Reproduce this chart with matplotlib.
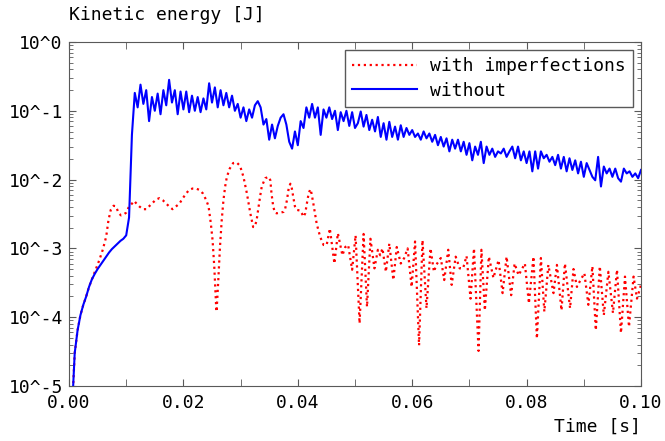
import numpy as np
import matplotlib
matplotlib.use("Agg")
import matplotlib.pyplot as plt
from matplotlib.ticker import MultipleLocator, LogLocator, NullFormatter, FuncFormatter, FormatStrFormatter

plt.rcParams['font.family'] = 'DejaVu Sans Mono'

# run without imperfections, sampled every 0.5 ms
t_without_ms = np.arange(0, 100.01, 0.5)
# log10 of kinetic energy [J]
without_exp = [
    -7.0, -5.4, -4.52, -4.19, -3.97, -3.82, -3.70, -3.56, -3.45, -3.37,
    -3.30, -3.24, -3.18, -3.12, -3.06, -3.01, -2.97, -2.93, -2.89, -2.86,
    -2.81, -2.55, -1.35, -0.74, -0.95, -0.62, -0.90, -0.70, -1.15, -0.80,
    -1.00, -0.75, -1.05, -0.70, -0.92, -0.55, -0.88, -0.70, -1.05, -0.72,
    -0.98, -0.72, -1.02, -0.78, -1.00, -0.80, -1.02, -0.82, -0.98, -0.60,
    -0.88, -0.66, -0.95, -0.70, -0.92, -0.74, -0.95, -0.78, -1.00, -0.90,
    -1.10, -0.95, -1.15, -0.98, -1.10, -0.92, -0.86, -0.95, -1.20, -1.12,
    -1.42, -1.20, -1.40, -1.22, -1.10, -1.05, -1.20, -1.45, -1.55, -1.30,
    -1.50, -1.15, -1.25, -0.95, -1.10, -0.90, -1.10, -0.95, -1.35, -0.98,
    -1.10, -0.95, -1.12, -1.00, -1.28, -1.02, -1.15, -1.00, -1.22, -1.02,
    -1.25, -1.18, -1.01, -1.23, -1.06, -1.28, -1.13, -1.30, -1.09, -1.38,
    -1.18, -1.42, -1.16, -1.38, -1.23, -1.42, -1.21, -1.38, -1.25, -1.35,
    -1.28, -1.38, -1.33, -1.42, -1.30, -1.40, -1.33, -1.45, -1.35, -1.50,
    -1.38, -1.52, -1.40, -1.59, -1.42, -1.55, -1.42, -1.59, -1.45, -1.64,
    -1.47, -1.72, -1.52, -1.64, -1.45, -1.76, -1.52, -1.64, -1.55, -1.67,
    -1.59, -1.62, -1.55, -1.67, -1.59, -1.52, -1.69, -1.52, -1.72, -1.59,
    -1.76, -1.59, -1.88, -1.59, -1.84, -1.59, -1.69, -1.64, -1.74, -1.67,
    -1.79, -1.64, -1.84, -1.67, -1.88, -1.69, -1.86, -1.72, -1.91, -1.74,
    -1.96, -1.76, -1.86, -1.96, -2.01, -1.67, -2.10, -1.81, -1.91, -1.84,
    -1.96, -1.84, -1.98, -2.03, -1.84, -1.91, -1.88, -1.96, -1.91, -1.98,
    -1.86,
]

# run with imperfections [ms]
t_with_ms = [
    0, 0.5, 1.0, 1.5, 2.0, 2.5, 3.0, 3.5, 4.0, 4.4,
    4.7, 5.3, 5.9, 6.5, 6.9, 7.3, 7.8, 8.2, 8.7, 9.1,
    9.5, 10.0, 10.5, 11.0, 11.4, 11.8, 12.3, 12.9, 13.5, 14.0,
    14.6, 15.2, 15.8, 16.4, 17.0, 17.5, 18.1, 18.7, 19.3, 19.9,
    20.5, 21.0, 21.6, 22.2, 22.8, 23.4, 24.0, 24.4, 24.8, 25.1,
    25.4, 25.7, 25.8, 26.1, 26.4, 26.7, 27.0, 27.3, 27.6, 28.1,
    28.7, 29.3, 29.9, 30.5, 31.1, 31.7, 32.2, 32.5, 32.8, 33.4,
    33.7, 34.3, 34.9, 35.2, 35.4, 35.7, 36.0, 36.3, 36.9, 37.5,
    37.8, 38.1, 38.4, 38.7, 38.9, 39.2, 39.5, 39.8, 40.4, 40.7,
    41.0, 41.3, 41.6, 41.9, 42.2, 42.4, 42.7, 43.0, 43.3, 43.9,
    44.5, 45.05, 45.6, 46.4, 47.0, 47.8, 48.3, 48.8, 49.5, 50.1,
    50.8, 51.5, 52.1, 52.7, 53.4, 54.0, 54.4, 54.8, 55.4, 56.0,
    56.7, 57.3, 58.0, 58.6, 59.2, 59.9, 60.5, 61.2, 61.8, 62.5,
    63.2, 63.8, 64.2, 65.0, 65.6, 66.3, 66.9, 67.6, 68.3, 68.9,
    69.5, 70.2, 70.8, 71.6, 72.1, 72.7, 73.4, 74.2, 75.1, 75.8,
    76.5, 77.3, 77.9, 78.6, 79.7, 80.4, 81.2, 81.8, 82.5, 83.1,
    83.8, 84.7, 85.3, 86.1, 86.7, 87.6, 88.2, 88.8, 89.3, 90.1,
    90.8, 91.5, 92.1, 92.8, 93.5, 94.3, 95.1, 95.8, 96.5, 97.2,
    97.9, 98.7, 99.3, 100.0,
]
with_exp = [
    -7.0, -5.4, -4.52, -4.19, -3.97, -3.82, -3.70, -3.56, -3.45, -3.36,
    -3.30, -3.17, -3.02, -2.83, -2.59, -2.44, -2.38, -2.39, -2.49, -2.52,
    -2.51, -2.48, -2.39, -2.35, -2.31, -2.35, -2.39, -2.43, -2.43, -2.39,
    -2.34, -2.29, -2.27, -2.30, -2.35, -2.39, -2.43, -2.39, -2.35, -2.27,
    -2.20, -2.15, -2.13, -2.13, -2.15, -2.20, -2.30, -2.39, -2.64, -2.88,
    -3.27, -3.80, -3.92, -3.46, -2.97, -2.59, -2.30, -2.10, -1.96, -1.84,
    -1.76, -1.75, -1.80, -1.96, -2.20, -2.49, -2.69, -2.68, -2.59, -2.25,
    -2.10, -1.98, -1.96, -2.01, -2.20, -2.39, -2.48, -2.49, -2.48, -2.47,
    -2.42, -2.30, -2.13, -2.06, -2.10, -2.25, -2.39, -2.44, -2.45, -2.49,
    -2.54, -2.49, -2.34, -2.20, -2.14, -2.20, -2.34, -2.49, -2.64, -2.83,
    -2.95, -2.95, -2.71, -3.22, -2.78, -3.10, -2.98, -2.95, -3.31, -2.81,
    -4.09, -2.79, -3.85, -2.86, -3.29, -3.02, -3.10, -3.00, -3.34, -2.93,
    -3.46, -2.98, -3.22, -3.14, -3.00, -3.56, -2.90, -4.41, -2.88, -3.87,
    -3.00, -3.34, -3.24, -3.14, -3.46, -3.02, -3.53, -3.12, -3.29, -3.29,
    -3.11, -3.73, -3.00, -4.49, -3.02, -3.90, -3.12, -3.43, -3.17, -3.65,
    -3.12, -3.68, -3.22, -3.39, -3.22, -3.80, -3.12, -4.31, -3.14, -3.92,
    -3.24, -3.65, -3.24, -3.90, -3.22, -3.87, -3.30, -3.56, -3.48, -3.36,
    -3.82, -3.26, -4.19, -3.26, -3.97, -3.34, -3.94, -3.31, -4.23, -3.41,
    -4.14, -3.41, -3.73, -3.53,
]

fig = plt.figure(figsize=(6.65, 4.41), dpi=100)
ax = fig.add_axes([69 / 665, 1 - 386 / 441, 572 / 665, 344 / 441])

ax.plot(np.array(t_with_ms) / 1000, 10.0 ** np.array(with_exp), color='#ff0000',
        ls=':', lw=1.6, label='with imperfections')
ax.plot(t_without_ms / 1000, 10.0 ** np.array(without_exp), color='#0000ff',
        lw=1.5, label='without')

ax.set_yscale('log')
ax.set_xlim(0, 0.1)
ax.set_ylim(1e-5, 1)

ax.xaxis.set_major_locator(MultipleLocator(0.02))
ax.xaxis.set_minor_locator(MultipleLocator(0.01))
ax.xaxis.set_major_formatter(FormatStrFormatter('%.2f'))
ax.yaxis.set_major_locator(LogLocator(base=10, numticks=10))
ax.yaxis.set_minor_locator(LogLocator(base=10, subs=np.arange(2, 10), numticks=20))
ax.yaxis.set_minor_formatter(NullFormatter())
ax.yaxis.set_major_formatter(FuncFormatter(lambda v, p: '10^%d' % round(np.log10(v))))

ax.tick_params(which='both', direction='in', top=True, right=True,
               color='0.35', labelsize=13)
ax.tick_params(axis='x', which='both', length=5, pad=6)
ax.tick_params(axis='y', which='major', length=5, pad=4.5)
ax.tick_params(axis='y', which='minor', length=3)
for s in ax.spines.values():
    s.set_color('0.35')

fig.text(69 / 665, 1 - 20.5 / 441, 'Kinetic energy [J]', fontsize=13, va='baseline')
fig.text(641 / 665, 1 - 432 / 441, 'Time [s]', fontsize=13, va='baseline', ha='right')

leg = ax.legend(loc='upper right', fontsize=13, fancybox=False, framealpha=1,
                edgecolor='0.35', borderaxespad=0.45, handlelength=3.6,
                handletextpad=0.7, labelspacing=0.35, borderpad=0.4)

fig.savefig('out.png', dpi=100)
